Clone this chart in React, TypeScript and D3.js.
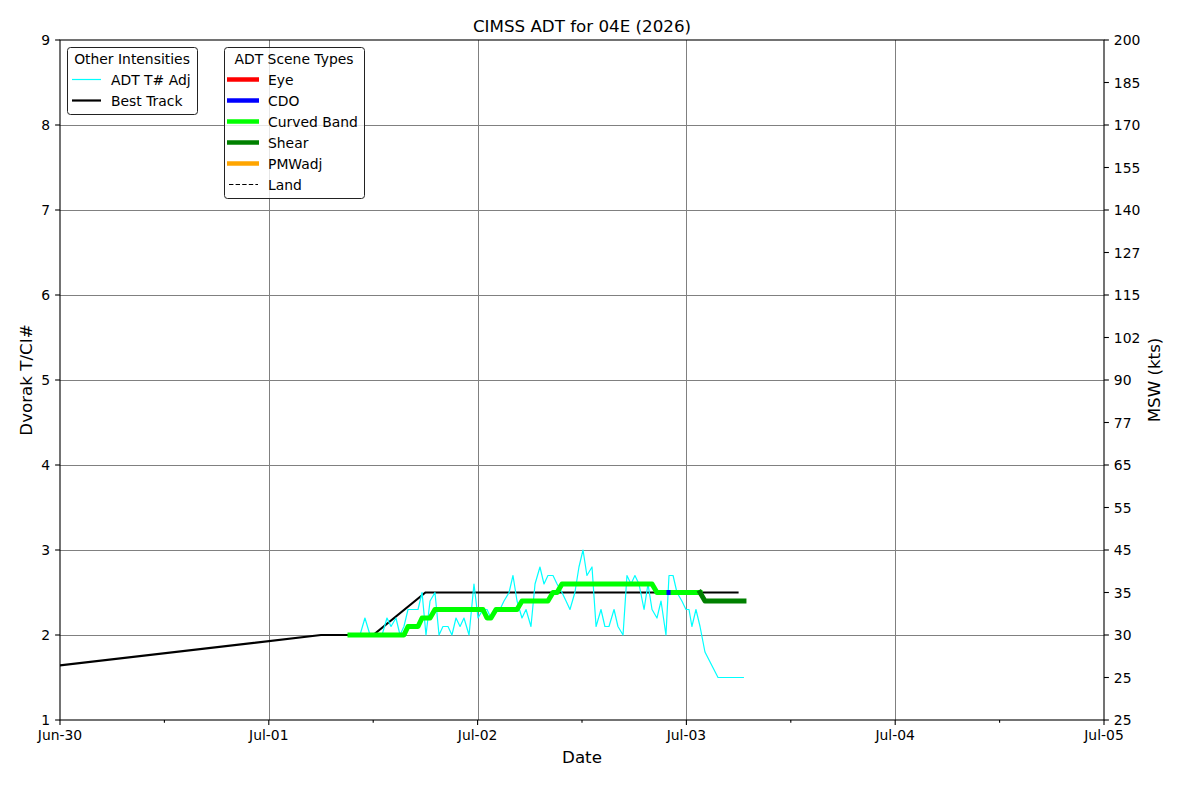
import React, { useEffect, useRef } from "react";
import * as d3 from "d3";

// chart data
const xDomain = ["2026-06-30T00:00Z", "2026-07-05T00:00Z"];
const dayTicks = ["2026-06-30", "2026-07-01", "2026-07-02", "2026-07-03", "2026-07-04", "2026-07-05"];
const dayLabels = ["Jun-30", "Jul-01", "Jul-02", "Jul-03", "Jul-04", "Jul-05"];
const halfDayTicks = ["2026-06-30T12:00Z", "2026-07-01T12:00Z", "2026-07-02T12:00Z", "2026-07-03T12:00Z", "2026-07-04T12:00Z"];

const tnumTicks = [1, 2, 3, 4, 5, 6, 7, 8, 9];
const mswTicks = [1, 1.5, 2, 2.5, 3, 3.5, 4, 4.5, 5, 5.5, 6, 6.5, 7, 7.5, 8, 8.5, 9];
const mswLabels = ["25", "25", "30", "35", "45", "55", "65", "77", "90", "102", "115", "127", "140", "155", "170", "185", "200"];

const bestTrackTimes = [
  "2026-06-29T12:00Z", "2026-07-01T06:00Z", "2026-07-01T12:00Z", "2026-07-01T18:00Z",
  "2026-07-02T00:00Z", "2026-07-02T06:00Z", "2026-07-02T12:00Z", "2026-07-02T18:00Z",
  "2026-07-03T00:00Z", "2026-07-03T06:00Z",
];
const bestTrackValues = [1.5, 2.0, 2.0, 2.5, 2.5, 2.5, 2.5, 2.5, 2.5, 2.5];

const adtTimes = [
  "2026-07-01T09:20Z", "2026-07-01T09:55Z", "2026-07-01T10:29Z", "2026-07-01T11:03Z", "2026-07-01T11:38Z",
  "2026-07-01T12:19Z", "2026-07-01T13:01Z", "2026-07-01T13:35Z", "2026-07-01T14:03Z", "2026-07-01T14:37Z",
  "2026-07-01T15:05Z", "2026-07-01T15:32Z", "2026-07-01T16:00Z", "2026-07-01T16:34Z", "2026-07-01T17:09Z",
  "2026-07-01T17:37Z", "2026-07-01T18:04Z", "2026-07-01T18:32Z", "2026-07-01T19:06Z", "2026-07-01T19:34Z",
  "2026-07-01T20:01Z", "2026-07-01T20:36Z", "2026-07-01T21:03Z", "2026-07-01T21:31Z", "2026-07-01T21:59Z",
  "2026-07-01T22:26Z", "2026-07-01T23:01Z", "2026-07-01T23:35Z",
  "2026-07-02T00:03Z", "2026-07-02T00:37Z", "2026-07-02T01:05Z", "2026-07-02T01:32Z", "2026-07-02T02:07Z",
  "2026-07-02T02:34Z", "2026-07-02T03:02Z", "2026-07-02T03:37Z", "2026-07-02T04:04Z", "2026-07-02T04:32Z",
  "2026-07-02T05:06Z", "2026-07-02T05:34Z", "2026-07-02T06:08Z", "2026-07-02T06:36Z", "2026-07-02T07:10Z",
  "2026-07-02T07:38Z", "2026-07-02T08:05Z", "2026-07-02T08:40Z", "2026-07-02T09:08Z", "2026-07-02T09:42Z",
  "2026-07-02T10:10Z", "2026-07-02T10:37Z", "2026-07-02T11:11Z", "2026-07-02T11:39Z", "2026-07-02T12:07Z",
  "2026-07-02T12:34Z", "2026-07-02T13:09Z", "2026-07-02T13:37Z", "2026-07-02T14:11Z", "2026-07-02T14:38Z",
  "2026-07-02T15:06Z", "2026-07-02T15:41Z", "2026-07-02T16:08Z", "2026-07-02T16:43Z", "2026-07-02T17:10Z",
  "2026-07-02T17:38Z", "2026-07-02T18:05Z", "2026-07-02T18:33Z", "2026-07-02T19:08Z", "2026-07-02T19:35Z",
  "2026-07-02T20:03Z", "2026-07-02T20:37Z", "2026-07-02T21:05Z", "2026-07-02T21:39Z", "2026-07-02T22:00Z",
  "2026-07-02T22:28Z", "2026-07-02T22:55Z", "2026-07-02T23:29Z", "2026-07-02T23:57Z",
  "2026-07-03T00:18Z", "2026-07-03T00:38Z", "2026-07-03T01:06Z", "2026-07-03T01:34Z", "2026-07-03T02:08Z",
  "2026-07-03T03:38Z", "2026-07-03T06:37Z",
];
// ADT T# Adj (thin cyan)
const adtAdjValues = [
  2.0, 2.0, 2.0, 2.2, 2.0, 2.0, 2.0, 2.2, 2.1, 2.2,
  2.0, 2.1, 2.3, 2.3, 2.3, 2.5, 2.0, 2.4, 2.5, 2.0,
  2.1, 2.1, 2.0, 2.2, 2.1, 2.2, 2.0, 2.6,
  2.2, 2.3, 2.3, 2.2, 2.3, 2.3, 2.4, 2.5, 2.7, 2.4,
  2.2, 2.3, 2.1, 2.6, 2.8, 2.6, 2.7, 2.7, 2.6, 2.5,
  2.4, 2.3, 2.5, 2.8, 3.0, 2.7, 2.8, 2.1, 2.3, 2.1,
  2.1, 2.3, 2.1, 2.0, 2.7, 2.6, 2.7, 2.6, 2.3, 2.6,
  2.3, 2.2, 2.4, 2.0, 2.7, 2.7, 2.5, 2.4, 2.3,
  2.3, 2.1, 2.3, 2.1, 1.8, 1.5, 1.5,
];
// ADT final T# (thick, coloured by scene type)
const adtFinalValues = [
  2.0, 2.0, 2.0, 2.0, 2.0, 2.0, 2.0, 2.0, 2.0, 2.0,
  2.0, 2.0, 2.1, 2.1, 2.1, 2.2, 2.2, 2.2, 2.3, 2.3,
  2.3, 2.3, 2.3, 2.3, 2.3, 2.3, 2.3, 2.3,
  2.3, 2.3, 2.2, 2.2, 2.3, 2.3, 2.3, 2.3, 2.3, 2.3,
  2.4, 2.4, 2.4, 2.4, 2.4, 2.4, 2.4, 2.5, 2.5, 2.6,
  2.6, 2.6, 2.6, 2.6, 2.6, 2.6, 2.6, 2.6, 2.6, 2.6,
  2.6, 2.6, 2.6, 2.6, 2.6, 2.6, 2.6, 2.6, 2.6, 2.6,
  2.6, 2.5, 2.5, 2.5, 2.5, 2.5, 2.5, 2.5, 2.5,
  2.5, 2.5, 2.5, 2.5, 2.4, 2.4, 2.4,
];
const adtScenes = [
  "CB", "CB", "CB", "CB", "CB", "CB", "CB", "CB", "CB", "CB",
  "CB", "CB", "CB", "CB", "CB", "CB", "CB", "CB", "CB", "CB",
  "CB", "CB", "CB", "CB", "CB", "CB", "CB", "CB",
  "CB", "CB", "CB", "CB", "CB", "CB", "CB", "CB", "CB", "CB",
  "CB", "CB", "CB", "CB", "CB", "CB", "CB", "CB", "CB", "CB",
  "CB", "CB", "CB", "CB", "CB", "CB", "CB", "CB", "CB", "CB",
  "CB", "CB", "CB", "CB", "CB", "CB", "CB", "CB", "CB", "CB",
  "CB", "CB", "CB", "CB", "CDO", "CB", "CB", "CB", "CB",
  "CB", "CB", "CB", "SH", "SH", "SH", "SH",
];

const sceneNames = ["Eye", "CDO", "Curved Band", "Shear", "PMWadj"];
const sceneKeys = ["EYE", "CDO", "CB", "SH", "PMW"];
const sceneColors = ["#ff0000", "#0000ff", "#00ff00", "#008000", "#ffa500"];

const FONT = "DejaVu Sans, Liberation Sans, sans-serif";

export default function App() {
  const ref = useRef<SVGSVGElement>(null);

  useEffect(() => {
    const width = 1200;
    const height = 800;
    const margin = { top: 40, right: 96, bottom: 80, left: 60 };
    const x0 = margin.left;
    const x1 = width - margin.right;
    const y0 = margin.top;
    const y1 = height - margin.bottom;

    const svg = d3.select(ref.current);
    svg.selectAll("*").remove();

    svg.append("rect").attr("width", width).attr("height", height).attr("fill", "#fff");

    const x = d3.scaleUtc().domain(xDomain.map((d) => new Date(d))).range([x0, x1]);
    const y = d3.scaleLinear().domain([1, 9]).range([y1, y0]);

    // grid
    const grid = svg.append("g").attr("stroke", "#808080").attr("stroke-width", 1);
    dayTicks.slice(1, -1).forEach((d) => {
      const px = Math.round(x(new Date(d + "T00:00Z"))) + 0.5;
      grid.append("line").attr("x1", px).attr("x2", px).attr("y1", y0).attr("y2", y1);
    });
    tnumTicks.slice(1, -1).forEach((v) => {
      const py = Math.round(y(v)) + 0.5;
      grid.append("line").attr("x1", x0).attr("x2", x1).attr("y1", py).attr("y2", py);
    });

    svg
      .append("clipPath")
      .attr("id", "plot-clip")
      .append("rect")
      .attr("x", x0)
      .attr("y", y0)
      .attr("width", x1 - x0)
      .attr("height", y1 - y0);

    const plot = svg.append("g").attr("clip-path", "url(#plot-clip)");

    const line = d3
      .line<[Date, number]>()
      .x((d) => x(d[0]))
      .y((d) => y(d[1]));

    // best track
    plot
      .append("path")
      .attr("d", line(bestTrackTimes.map((t, i) => [new Date(t), bestTrackValues[i]])))
      .attr("fill", "none")
      .attr("stroke", "#000")
      .attr("stroke-width", 2.2);

    // ADT T# adj
    plot
      .append("path")
      .attr("d", line(adtTimes.map((t, i) => [new Date(t), adtAdjValues[i]])))
      .attr("fill", "none")
      .attr("stroke", "#00ffff")
      .attr("stroke-width", 1.2)
      .attr("stroke-linejoin", "round");

    // final T#, split into runs by scene type
    const runs: { key: string; pts: [Date, number][] }[] = [];
    for (let i = 0; i < adtTimes.length - 1; i++) {
      const key = adtScenes[i];
      const a: [Date, number] = [new Date(adtTimes[i]), adtFinalValues[i]];
      const b: [Date, number] = [new Date(adtTimes[i + 1]), adtFinalValues[i + 1]];
      const last = runs[runs.length - 1];
      if (last && last.key === key) last.pts.push(b);
      else runs.push({ key, pts: [a, b] });
    }
    runs.forEach((r) => {
      plot
        .append("path")
        .attr("d", line(r.pts))
        .attr("fill", "none")
        .attr("stroke", sceneColors[sceneKeys.indexOf(r.key)])
        .attr("stroke-width", 5)
        .attr("stroke-linejoin", "round")
        .attr("stroke-linecap", "square");
    });

    // axes frame
    svg
      .append("rect")
      .attr("x", x0)
      .attr("y", y0)
      .attr("width", x1 - x0)
      .attr("height", y1 - y0)
      .attr("fill", "none")
      .attr("stroke", "#000")
      .attr("stroke-width", 1.1);

    const ticks = svg.append("g").attr("stroke", "#000").attr("stroke-width", 1.1);
    const labels = svg
      .append("g")
      .attr("font-family", FONT)
      .attr("font-size", 13.9)
      .attr("fill", "#000");

    // bottom axis
    dayTicks.forEach((d, i) => {
      const px = x(new Date(d + "T00:00Z"));
      ticks.append("line").attr("x1", px).attr("x2", px).attr("y1", y1).attr("y2", y1 + 4.9);
      labels
        .append("text")
        .attr("x", px)
        .attr("y", y1 + 9.8)
        .attr("dy", "0.76em")
        .attr("text-anchor", "middle")
        .text(dayLabels[i]);
    });
    halfDayTicks.forEach((d) => {
      const px = x(new Date(d));
      ticks.append("line").attr("x1", px).attr("x2", px).attr("y1", y1).attr("y2", y1 + 2.8);
    });

    // left axis
    tnumTicks.forEach((v) => {
      const py = y(v);
      ticks.append("line").attr("x1", x0 - 4.9).attr("x2", x0).attr("y1", py).attr("y2", py);
      labels
        .append("text")
        .attr("x", x0 - 9.8)
        .attr("y", py)
        .attr("dy", "0.36em")
        .attr("text-anchor", "end")
        .text(String(v));
    });

    // right axis
    mswTicks.forEach((v, i) => {
      const py = y(v);
      ticks.append("line").attr("x1", x1).attr("x2", x1 + 4.9).attr("y1", py).attr("y2", py);
      labels
        .append("text")
        .attr("x", x1 + 9.8)
        .attr("y", py)
        .attr("dy", "0.36em")
        .attr("text-anchor", "start")
        .text(mswLabels[i]);
    });

    // titles
    const titles = svg.append("g").attr("font-family", FONT).attr("fill", "#000");
    titles
      .append("text")
      .attr("x", (x0 + x1) / 2)
      .attr("y", 32)
      .attr("font-size", 16.7)
      .attr("text-anchor", "middle")
      .text("CIMSS ADT for 04E (2026)");
    titles
      .append("text")
      .attr("x", (x0 + x1) / 2)
      .attr("y", 763)
      .attr("font-size", 16.7)
      .attr("text-anchor", "middle")
      .text("Date");
    titles
      .append("text")
      .attr("transform", `translate(32, ${(y0 + y1) / 2}) rotate(-90)`)
      .attr("font-size", 16.7)
      .attr("text-anchor", "middle")
      .text("Dvorak T/CI#");
    titles
      .append("text")
      .attr("transform", `translate(1160, ${(y0 + y1) / 2}) rotate(-90)`)
      .attr("font-size", 16.7)
      .attr("text-anchor", "middle")
      .text("MSW (kts)");

    // legends
    const legendBox = (lx: number, ly: number, w: number, h: number, title: string) => {
      const g = svg.append("g").attr("font-family", FONT).attr("font-size", 13.9);
      g.append("rect")
        .attr("x", lx + 0.5)
        .attr("y", ly + 0.5)
        .attr("width", w)
        .attr("height", h)
        .attr("rx", 3)
        .attr("fill", "#fff")
        .attr("fill-opacity", 0.8)
        .attr("stroke", "#222")
        .attr("stroke-width", 1);
      g.append("text")
        .attr("x", lx + w / 2)
        .attr("y", ly + 12)
        .attr("dy", "0.36em")
        .attr("text-anchor", "middle")
        .text(title);
      return g;
    };

    const other = legendBox(67, 47, 130, 67, "Other Intensities");
    const otherItems = [
      { name: "ADT T# Adj", color: "#00ffff", w: 1.2 },
      { name: "Best Track", color: "#000", w: 2.2 },
    ];
    otherItems.forEach((it, i) => {
      const ry = 79.5 + i * 21;
      other.append("line").attr("x1", 72).attr("x2", 101).attr("y1", ry).attr("y2", ry)
        .attr("stroke", it.color).attr("stroke-width", it.w);
      other.append("text").attr("x", 111).attr("y", ry).attr("dy", "0.36em").text(it.name);
    });

    const scenes = legendBox(224, 47, 140, 151, "ADT Scene Types");
    sceneNames.forEach((name, i) => {
      const ry = 79.5 + i * 21;
      scenes.append("line").attr("x1", 227).attr("x2", 259).attr("y1", ry).attr("y2", ry)
        .attr("stroke", sceneColors[i]).attr("stroke-width", 4.5);
      scenes.append("text").attr("x", 268).attr("y", ry).attr("dy", "0.36em").text(name);
    });
    const landY = 79.5 + 5 * 21;
    scenes.append("line").attr("x1", 229).attr("x2", 258).attr("y1", landY).attr("y2", landY)
      .attr("stroke", "#000").attr("stroke-width", 1.2).attr("stroke-dasharray", "4.4,2.2");
    scenes.append("text").attr("x", 268).attr("y", landY).attr("dy", "0.36em").text("Land");
  }, []);

  return (
    <svg
      ref={ref}
      width={1200}
      height={800}
      style={{ position: "absolute", left: 0, top: 0, display: "block" }}
    />
  );
}
